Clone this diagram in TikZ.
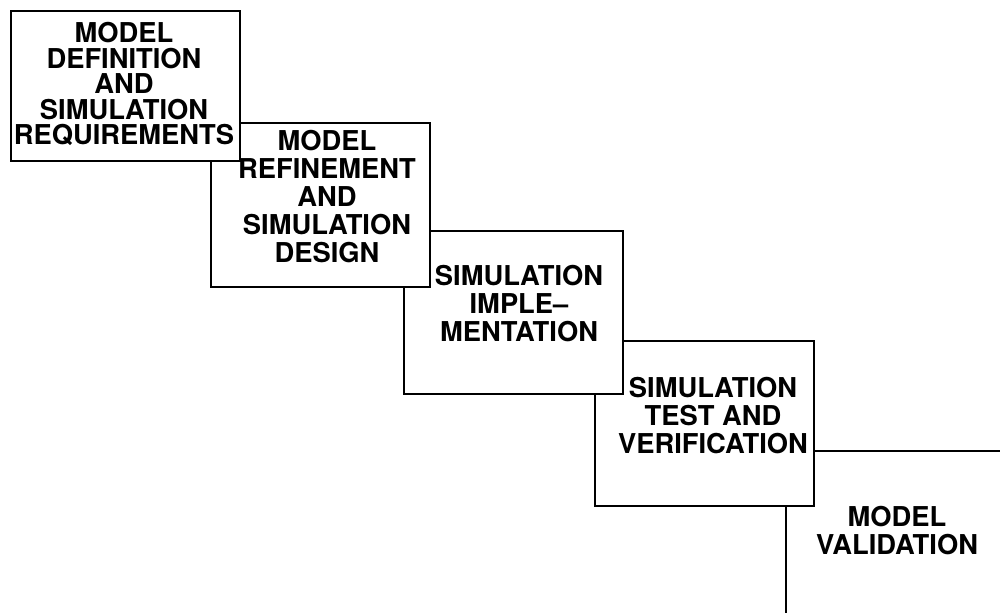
\documentclass[tikz,border=0pt]{standalone}
\usepackage{fontspec}
\newfontfamily\stagefont{TeX Gyre Heros}

\begin{document}
\begin{tikzpicture}[x=0.75pt,y=-0.75pt,
  stage/.style={draw, fill=white, line width=1.5pt, inner sep=0pt, anchor=north west},
  lbl/.style={font=\stagefont\bfseries\fontsize{20.5}{21}\selectfont, align=center, inner sep=0pt, anchor=north}]
\useasboundingbox (0,0) rectangle (1000,613);
\clip (0,0) rectangle (1000,613);
% last stage first, so each earlier box lies on top of the next one
\node[stage, minimum width=168.75pt, minimum height=131.25pt] (valid) at (785,450) {};
\node[lbl] (validtxt) at (897,506) {MODEL\\VALIDATION};
\node[stage, minimum width=164.25pt, minimum height=123.75pt] (verif) at (594,340) {};
\node[lbl] (veriftxt) at (713,377) {SIMULATION\\TEST AND\\VERIFICATION};
\node[stage, minimum width=164.25pt, minimum height=122.25pt] (impl) at (403,230) {};
\node[lbl] (impltxt) at (519,265) {SIMULATION\\IMPLE\textendash\\MENTATION};
\node[stage, minimum width=164.25pt, minimum height=123pt] (design) at (210,122) {};
\node[lbl] (designtxt) at (327,130) {MODEL\\REFINEMENT\\AND\\SIMULATION\\DESIGN};
\node[stage, minimum width=171.75pt, minimum height=112.5pt] (reqs) at (10,10) {};
\node[lbl, font=\stagefont\bfseries\fontsize{20.5}{19.2}\selectfont] (reqstxt) at (124,22) {MODEL\\DEFINITION\\AND\\SIMULATION\\REQUIREMENTS};
\end{tikzpicture}
\end{document}
